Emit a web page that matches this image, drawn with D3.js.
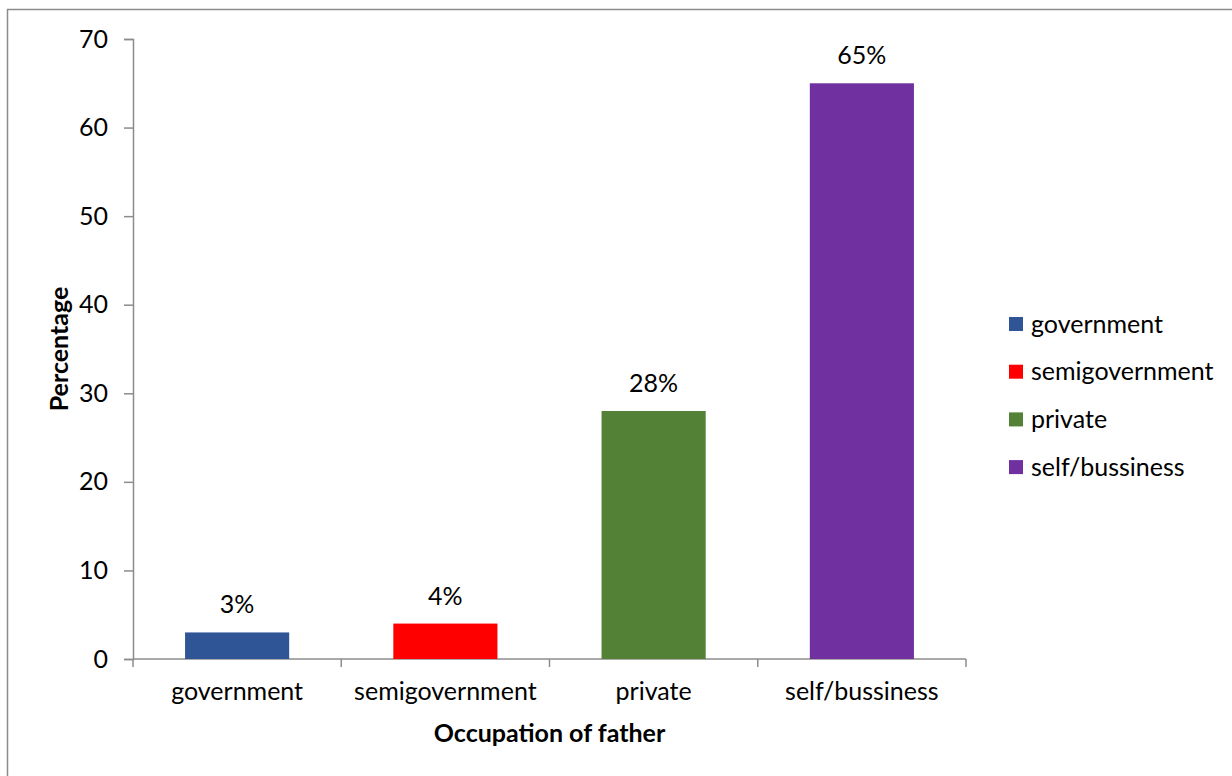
<!DOCTYPE html>
<html>
<head>
<meta charset="utf-8">
<script src="https://cdn.jsdelivr.net/npm/d3@7"></script>
<style>
  html, body { margin: 0; padding: 0; background: #fff; }
  svg { display: block; font-family: Lato, "Open Sans", sans-serif; }
</style>
</head>
<body>
<svg id="chart" width="1232" height="776"></svg>
<script>
// Occupation of father — share of respondents (%)
const categories = ["government", "semigovernment", "private", "self/bussiness"];
const values = [3, 4, 28, 65];
const valueLabels = ["3%", "4%", "28%", "65%"];
const colors = ["#2F5597", "#FF0000", "#538135", "#7030A0"];
const yTicks = [0, 10, 20, 30, 40, 50, 60, 70];

const svg = d3.select("#chart");
const W = 1232, H = 776;
const plot = { left: 133, right: 966, top: 39, bottom: 659 };
const FS = "25px";

// outer chart frame
svg.append("rect")
  .attr("x", 7.5).attr("y", 9.5)
  .attr("width", W).attr("height", H)
  .attr("fill", "#fff").attr("stroke", "#8c8c8c").attr("stroke-width", 1.5);

const x = d3.scaleBand()
  .domain(categories)
  .range([plot.left, plot.right])
  .paddingInner(0.5)
  .paddingOuter(0.25);

const y = d3.scaleLinear().domain([0, 70]).range([plot.bottom, plot.top]);

// y axis
const yAxis = svg.append("g")
  .attr("transform", `translate(${plot.left},0)`)
  .call(d3.axisLeft(y).tickValues(yTicks).tickSize(9).tickPadding(16));
yAxis.select(".domain").attr("stroke", "#8c8c8c").attr("stroke-width", 1.5);
yAxis.selectAll(".tick line").attr("stroke", "#8c8c8c").attr("stroke-width", 1.5);
yAxis.selectAll(".tick text")
  .attr("fill", "#000").style("font-size", FS).style("font-family", "Lato, sans-serif");

// x axis: baseline with ticks at category boundaries
const bStep = (plot.right - plot.left) / categories.length;
const xg = svg.append("g");
xg.append("line")
  .attr("x1", plot.left).attr("x2", plot.right)
  .attr("y1", y(0)).attr("y2", y(0))
  .attr("stroke", "#8c8c8c").attr("stroke-width", 1.5);
xg.selectAll("line.b")
  .data(d3.range(categories.length + 1))
  .join("line")
  .attr("class", "b")
  .attr("x1", i => plot.left + i * bStep).attr("x2", i => plot.left + i * bStep)
  .attr("y1", y(0)).attr("y2", y(0) + 8)
  .attr("stroke", "#8c8c8c").attr("stroke-width", 1.5);
xg.selectAll("text")
  .data(categories)
  .join("text")
  .attr("x", d => x(d) + x.bandwidth() / 2)
  .attr("y", 700)
  .attr("text-anchor", "middle")
  .style("font-size", FS)
  .text(d => d);

// bars
svg.append("g").selectAll("rect")
  .data(categories)
  .join("rect")
  .attr("x", d => x(d))
  .attr("width", x.bandwidth())
  .attr("y", (d, i) => y(values[i]))
  .attr("height", (d, i) => y(0) - y(values[i]))
  .attr("fill", (d, i) => colors[i]);

// value labels
svg.append("g").selectAll("text")
  .data(categories)
  .join("text")
  .attr("x", d => x(d) + x.bandwidth() / 2)
  .attr("y", (d, i) => y(values[i]) - 19)
  .attr("text-anchor", "middle")
  .style("font-size", FS)
  .text((d, i) => valueLabels[i]);

// axis titles
svg.append("text")
  .attr("x", (plot.left + plot.right) / 2)
  .attr("y", 742)
  .attr("text-anchor", "middle")
  .style("font-size", FS).style("font-weight", "bold")
  .text("Occupation of father");

svg.append("text")
  .attr("transform", `translate(68, ${(plot.top + plot.bottom) / 2}) rotate(-90)`)
  .attr("text-anchor", "middle")
  .style("font-size", FS).style("font-weight", "bold")
  .text("Percentage");

// legend
const legend = svg.append("g").selectAll("g")
  .data(categories)
  .join("g")
  .attr("transform", (d, i) => `translate(1009, ${324 + i * 47.7})`);
legend.append("rect")
  .attr("x", 0).attr("y", -7).attr("width", 14).attr("height", 14)
  .attr("fill", (d, i) => colors[i]);
legend.append("text")
  .attr("x", 22).attr("y", 8.5)
  .style("font-size", FS)
  .text(d => d);
</script>
</body>
</html>
